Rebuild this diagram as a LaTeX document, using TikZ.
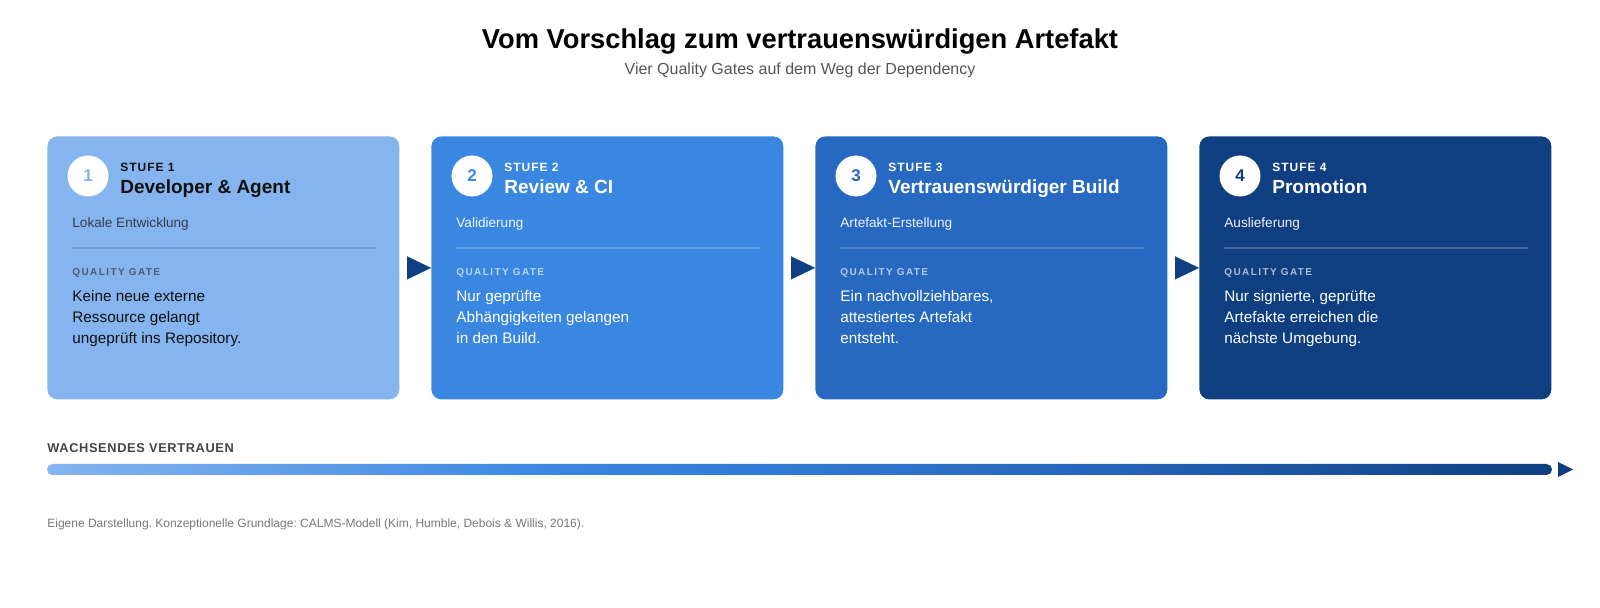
\documentclass[tikz,border=0pt]{standalone}
\usepackage{fontspec}
\setmainfont{Liberation Sans}
\newfontfamily\stufefont[LetterSpace=8]{Liberation Sans}
\newfontfamily\gatefont[LetterSpace=14]{Liberation Sans}
\newfontfamily\trustfont[LetterSpace=5]{Liberation Sans}
\usetikzlibrary{arrows.meta}
\definecolor{stageone}{HTML}{85B4EE}
\definecolor{stagetwo}{HTML}{3A87E2}
\definecolor{stagethree}{HTML}{2769C0}
\definecolor{stagefour}{HTML}{0F3F80}
\definecolor{inkdark}{HTML}{111111}
\definecolor{subdark}{HTML}{333D4D}
\definecolor{gatedark}{HTML}{4A5C78}
\definecolor{linedark}{HTML}{6E9ED8}
\definecolor{headgray}{HTML}{555555}
\definecolor{trustgray}{HTML}{444444}
\definecolor{notegray}{HTML}{777777}
\pgfdeclarehorizontalshading{trustshade}{100bp}{color(0bp)=(stageone); color(25bp)=(stageone); color(41.67bp)=(stagetwo); color(58.33bp)=(stagethree); color(75bp)=(stagefour); color(100bp)=(stagefour)}
\frenchspacing
\begin{document}
\begin{tikzpicture}[x=0.5pt, y=-0.5pt,
  stage/.style={rectangle, rounded corners=5pt, minimum width=176pt, minimum height=131.5pt, inner sep=0, anchor=north west},
  badge/.style={circle, fill=white, minimum size=20.5pt, inner sep=0, font=\bfseries\fontsize{8.5}{10}\selectfont},
  stagelabel/.style={anchor=base west, inner sep=0, font=\stufefont\bfseries\fontsize{6}{7}\selectfont},
  stagetitle/.style={anchor=base west, inner sep=0, font=\bfseries\fontsize{9.5}{11}\selectfont},
  stagesub/.style={anchor=base west, inner sep=0, font=\fontsize{6.8}{8}\selectfont},
  gatelabel/.style={anchor=base west, inner sep=0, font=\gatefont\bfseries\fontsize{5}{6}\selectfont},
  gatetext/.style={anchor=base west, inner sep=0, font=\fontsize{7.65}{10.4}\selectfont},
  gatearrow/.style={draw=stagefour, line width=0.1pt, shorten <=4pt, -{Triangle[length=12pt, width=11.5pt, fill=stagefour]}},
]
\useasboundingbox (0,0) rectangle (1600,608);
\node[anchor=base, font=\bfseries\fontsize{13.65}{16}\selectfont] (title) at (800,49) {Vom Vorschlag zum vertrauenswürdigen Artefakt};
\node[anchor=base, font=\fontsize{8}{10}\selectfont, text=headgray] (subtitle) at (800,75) {Vier Quality Gates auf dem Weg der Dependency};

% Stufe 1
\node[stage, fill=stageone] (s1) at (47,136) {};
\node[badge, text=stageone] (n1) at (88,176) {1};
\node[stagelabel, text=inkdark] (l1) at (120,172) {STUFE 1};
\node[stagetitle, text=inkdark] (t1) at (120,194) {Developer \& Agent};
\node[stagesub, text=subdark] (u1) at (72,228) {Lokale Entwicklung};
\draw[linedark, line width=0.6pt] (72,248) -- (376,248);
\node[gatelabel, text=gatedark] (g1) at (72,276) {QUALITY GATE};
\node[gatetext, text=inkdark] (q1) at (72,302) {\begin{tabular}[t]{@{}l@{}}Keine neue externe\\Ressource gelangt\\ungeprüft ins Repository.\end{tabular}};

% Stufe 2
\node[stage, fill=stagetwo] (s2) at (431,136) {};
\node[badge, text=stagetwo] (n2) at (472,176) {2};
\node[stagelabel, text=white] (l2) at (504,172) {STUFE 2};
\node[stagetitle, text=white] (t2) at (504,194) {Review \& CI};
\node[stagesub, text=white, text opacity=0.92] (u2) at (456,228) {Validierung};
\draw[white, opacity=0.2, line width=0.6pt] (456,248) -- (760,248);
\node[gatelabel, text=white, text opacity=0.65] (g2) at (456,276) {QUALITY GATE};
\node[gatetext, text=white] (q2) at (456,302) {\begin{tabular}[t]{@{}l@{}}Nur geprüfte\\Abhängigkeiten gelangen\\in den Build.\end{tabular}};

% Stufe 3
\node[stage, fill=stagethree] (s3) at (815,136) {};
\node[badge, text=stagethree] (n3) at (856,176) {3};
\node[stagelabel, text=white] (l3) at (888,172) {STUFE 3};
\node[stagetitle, text=white] (t3) at (888,194) {Vertrauenswürdiger Build};
\node[stagesub, text=white, text opacity=0.92] (u3) at (840,228) {Artefakt-Erstellung};
\draw[white, opacity=0.2, line width=0.6pt] (840,248) -- (1144,248);
\node[gatelabel, text=white, text opacity=0.65] (g3) at (840,276) {QUALITY GATE};
\node[gatetext, text=white] (q3) at (840,302) {\begin{tabular}[t]{@{}l@{}}Ein nachvollziehbares,\\attestiertes Artefakt\\entsteht.\end{tabular}};

% Stufe 4
\node[stage, fill=stagefour] (s4) at (1199,136) {};
\node[badge, text=stagefour] (n4) at (1240,176) {4};
\node[stagelabel, text=white] (l4) at (1272,172) {STUFE 4};
\node[stagetitle, text=white] (t4) at (1272,194) {Promotion};
\node[stagesub, text=white, text opacity=0.92] (u4) at (1224,228) {Auslieferung};
\draw[white, opacity=0.2, line width=0.6pt] (1224,248) -- (1528,248);
\node[gatelabel, text=white, text opacity=0.65] (g4) at (1224,276) {QUALITY GATE};
\node[gatetext, text=white] (q4) at (1224,302) {\begin{tabular}[t]{@{}l@{}}Nur signierte, geprüfte\\Artefakte erreichen die\\nächste Umgebung.\end{tabular}};

\draw[gatearrow] (s1.east) -- (s2.west);
\draw[gatearrow] (s2.east) -- (s3.west);
\draw[gatearrow] (s3.east) -- (s4.west);

% Vertrauen
\node[anchor=base west, inner sep=0, text=trustgray, font=\trustfont\bfseries\fontsize{6.4}{8}\selectfont] (trust) at (47,453) {WACHSENDES VERTRAUEN};
\shade[shading=trustshade, rounded corners=2.75pt] (47,464) rectangle (1552,475);
\fill[stagefour] (1558,462) -- (1573,469.5) -- (1558,477) -- cycle;

\node[anchor=base west, inner sep=0, text=notegray, font=\fontsize{6}{7}\selectfont] (note) at (47,527.5) {Eigene Darstellung. Konzeptionelle Grundlage: CALMS-Modell (Kim, Humble, Debois \& Willis, 2016).};
\end{tikzpicture}
\end{document}
